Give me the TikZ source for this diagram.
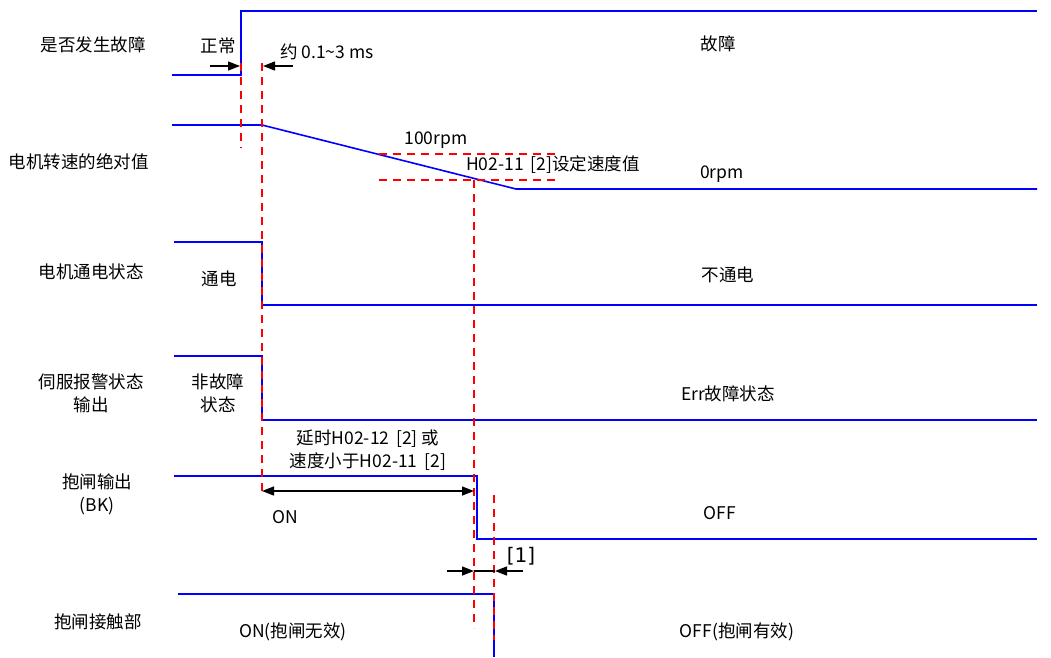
\documentclass[tikz,border=0pt]{standalone}
\usepackage{fontspec}
\setmainfont{Noto Sans CJK SC}
\newfontfamily\dvs{DejaVu Sans}
\usetikzlibrary{arrows.meta}
\begin{document}
\begin{tikzpicture}[x=1pt,y=-1pt,
  sig/.style={draw={rgb,255:red,0;green,0;blue,255},line width=1.6pt},
  guide/.style={draw=red,line width=1.3pt,dash pattern=on 8pt off 6pt},
  meas/.style={draw=black,line width=1.3pt},
  tip/.style={-{Triangle[length=12pt,width=9pt]}},
  lbl/.style={font=\fontsize{17.5}{23}\selectfont,inner sep=0pt,align=center},
  txt/.style={font=\fontsize{17.5}{23}\selectfont,inner sep=0pt,align=center}]
\useasboundingbox (0,0) rectangle (1051,657);
% row labels
\node[lbl] (l1) at (93,45) {是否发生故障};
\node[lbl] (l2) at (79,162) {电机转速的绝对值};
\node[lbl] (l3) at (91,272) {电机通电状态};
\node[lbl] (l4) at (91,393) {伺服报警状态\\输出};
\node[lbl] (l5) at (97,494) {抱闸输出\\(BK)};
\node[lbl] (l6) at (98,622) {抱闸接触部};
% signals
\draw[sig] (172,75) -- (241,75) -- (241,11) -- (1037,11);
\draw[sig] (172,125) -- (262,125) -- (516,189) -- (1037,189);
\draw[sig] (174,242) -- (262,242) -- (262,305) -- (1037,305);
\draw[sig] (174,356) -- (262,356) -- (262,420) -- (1037,420);
\draw[sig] (174,476) -- (477,476) -- (477,539) -- (1037,539);
\draw[sig] (178,594) -- (494,594) -- (494,657);
% guides
\draw[guide] (241,63) -- (241,148);
\draw[guide] (262,63) -- (262,492);
\draw[guide] (379,154) -- (556,154);
\draw[guide] (379,180) -- (556,180);
\draw[guide] (474,180) -- (474,628);
\draw[guide] (494,495) -- (494,640);
% measurement arrows
\coordinate (a1s) at (210,66); \coordinate (a1e) at (240,66);
\coordinate (a2s) at (293,66); \coordinate (a2e) at (263,66);
\draw[meas,tip] (a1s) -- (a1e);
\draw[meas,tip] (a2s) -- (a2e);
\coordinate (b1) at (262,491); \coordinate (b2) at (474,491);
\draw[meas,{Triangle[length=12pt,width=9pt]}-{Triangle[length=12pt,width=9pt]}] (b1) -- (b2);
\coordinate (c1) at (447,571); \coordinate (c2) at (474,571);
\coordinate (c3) at (523,571); \coordinate (c4) at (495,571);
\draw[meas] (c2) -- (c4);
\draw[meas,tip] (c1) -- (c2);
\draw[meas,tip] (c3) -- (c4);
% texts
\node[txt] (t1) at (218,46) {正常};
\node[txt] (t2) at (327,52) {约 0.1\textasciitilde3 ms};
\node[txt] (t3) at (718,44) {故障};
\node[txt] (t4) at (436,140) {100rpm};
\node[txt] (t5) at (553,165) {H02-11\, [2]设定速度值};
\node[txt] (t6) at (722,174) {0rpm};
\node[txt] (t7) at (219,279) {通电};
\node[txt] (t8) at (728,275) {不通电};
\node[txt] (t9) at (218,393) {非故障\\状态};
\node[txt] (t10) at (728,394) {Err故障状态};
\node[txt] (t11) at (368,450) {延时H02-12\, [2] 或\\速度小于H02-11\, [2]};
\node[txt] (t12) at (285,517) {ON};
\node[txt] (t13) at (720,513) {OFF};
\node[txt,font=\dvs\fontsize{20}{22}\selectfont] (t14) at (521,556) {[1]};
\node[txt] (t15) at (293,632) {ON(抱闸无效)};
\node[txt] (t16) at (737,632) {OFF(抱闸有效)};
\end{tikzpicture}
\end{document}
